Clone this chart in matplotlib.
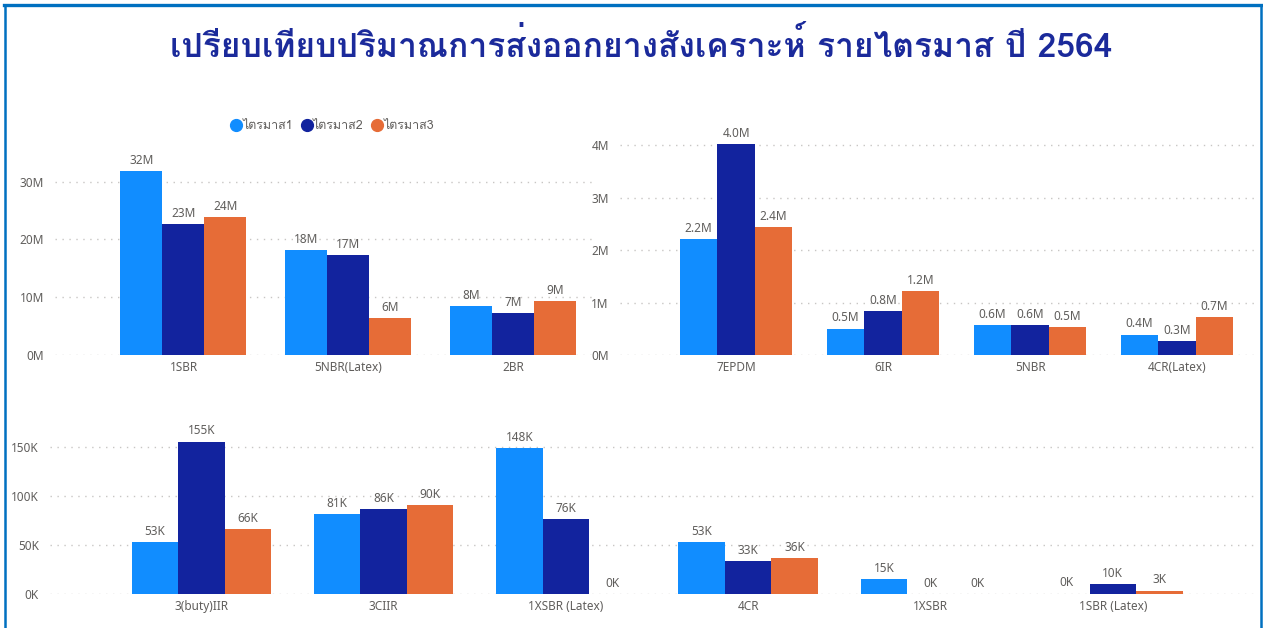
import matplotlib
matplotlib.use("Agg")
import matplotlib.pyplot as plt
from matplotlib.lines import Line2D
import numpy as np

plt.rcParams["font.family"] = ["Noto Sans", "Loma", "DejaVu Sans"]

# ---------------------------------------------------------------------------
# Data
# ---------------------------------------------------------------------------
SERIES = ["ไตรมาส1", "ไตรมาส2", "ไตรมาส3"]
COLORS = ["#118DFF", "#12239E", "#E66C37"]

TL_CATS = ["1SBR", "5NBR(Latex)", "2BR"]
TL_Q1 = [31.8e6, 18.2e6, 8.4e6]
TL_Q2 = [22.7e6, 17.3e6, 7.3e6]
TL_Q3 = [23.9e6, 6.4e6, 9.35e6]

TR_CATS = ["7EPDM", "6IR", "5NBR", "4CR(Latex)"]
TR_Q1 = [2.22e6, 0.505e6, 0.575e6, 0.39e6]
TR_Q2 = [4.02e6, 0.84e6, 0.575e6, 0.27e6]
TR_Q3 = [2.44e6, 1.22e6, 0.54e6, 0.72e6]

BT_CATS = ["3(buty)IIR", "3CIIR", "1XSBR (Latex)", "4CR", "1XSBR", "1SBR (Latex)"]
BT_Q1 = [53.0e3, 81.4e3, 148.4e3, 53.3e3, 15.0e3, 0.45e3]
BT_Q2 = [155.2e3, 86.4e3, 76.4e3, 33.4e3, 0, 10.3e3]
BT_Q3 = [66.4e3, 90.2e3, 0, 36.4e3, 0, 3.4e3]

TITLE = "เปรียบเทียบปริมาณการส่งออกยางสังเคราะห์ รายไตรมาส ปี 2564"

TEXT = "#605E5C"
GRID = "#C8C6C4"
W = 1263
H = 628


def fmt_m0(v):
    return f"{v / 1e6:.0f}M"


def fmt_m1(v):
    return f"{v / 1e6:.1f}M"


def fmt_k(v):
    return f"{v / 1e3:.0f}K"


def axes_px(fig, left, right, top, bottom):
    return fig.add_axes([left / W, 1 - bottom / H, (right - left) / W, (bottom - top) / H])


def draw(ax, cats, series, fmt, tick_fmt, yticks, xlim, ylim):
    x = np.arange(len(cats))
    w = 0.255
    for j, vals in enumerate(series):
        bars = ax.bar(x + (j - 1) * w, vals, w, color=COLORS[j], zorder=3)
        ax.bar_label(bars, labels=[fmt(v) for v in vals], padding=3,
                     fontsize=8.5, color=TEXT)
    ax.set_xticks(x)
    ax.set_xticklabels(cats, fontsize=8.5, color=TEXT)
    ax.set_yticks(yticks)
    ax.set_yticklabels([tick_fmt(t) for t in yticks], fontsize=8.5, color=TEXT)
    ax.set_xlim(*xlim)
    ax.set_ylim(*ylim)
    ax.yaxis.grid(True, linestyle=(0, (1, 4)), color=GRID, linewidth=1, zorder=0)
    ax.set_axisbelow(True)
    for s in ax.spines.values():
        s.set_visible(False)
    ax.tick_params(axis="both", length=0)
    ax.tick_params(axis="y", pad=8)
    ax.tick_params(axis="x", pad=4)


fig = plt.figure(figsize=(W / 100, H / 100), dpi=100)

# top-left: millions
ax1 = axes_px(fig, 55, 592, 147, 355)
draw(ax1, TL_CATS, [TL_Q1, TL_Q2, TL_Q3], fmt_m0, fmt_m0,
     [0, 10e6, 20e6, 30e6], (-0.78, 2.48), (0, 36e6))

# top-right: millions, one decimal on the bars
ax2 = axes_px(fig, 620, 1255, 135, 355)
draw(ax2, TR_CATS, [TR_Q1, TR_Q2, TR_Q3], fmt_m1, fmt_m0,
     [0, 1e6, 2e6, 3e6, 4e6], (-0.79, 3.53), (0, 4.2e6))

# bottom: thousands
ax3 = axes_px(fig, 50, 1255, 432, 594)
draw(ax3, BT_CATS, [BT_Q1, BT_Q2, BT_Q3], fmt_k, fmt_k,
     [0, 50e3, 100e3, 150e3], (-0.83, 5.78), (0, 165e3))

# legend
handles = [Line2D([0], [0], marker="o", linestyle="none", markersize=8.5,
                  markerfacecolor=c, markeredgecolor=c) for c in COLORS]
fig.legend(handles, SERIES, loc="center", bbox_to_anchor=(332 / W, 1 - 126 / H),
           ncol=3, frameon=False, labelcolor=TEXT,
           handletextpad=0.0, columnspacing=0.6, handlelength=1.0,
           prop={"family": ["Loma", "Noto Sans"], "size": 9})

# title
fig.text(641 / W, 1 - 45 / H, TITLE, ha="center", va="center",
         fontsize=24.2, fontweight="bold", color="#1B2A9B",
         family=["Loma", "DejaVu Sans"])

# frame (top, left, right)
fc = "#0070C0"
fig.add_artist(Line2D([4 / W, 1262 / W], [1 - 5 / H, 1 - 5 / H], color=fc, lw=2.4))
fig.add_artist(Line2D([5 / W, 5 / W], [0, 1 - 5 / H], color=fc, lw=1.8))
fig.add_artist(Line2D([1261 / W, 1261 / W], [0, 1 - 5 / H], color=fc, lw=1.8))

fig.savefig("out.png", dpi=100)
